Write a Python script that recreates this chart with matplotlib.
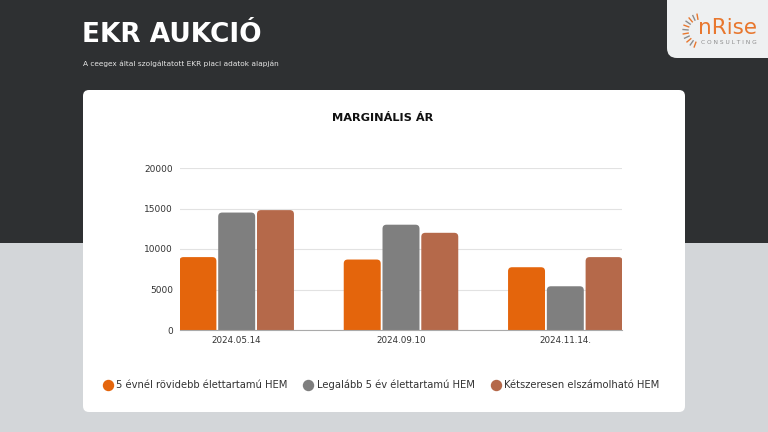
import matplotlib
matplotlib.use('Agg')
import matplotlib.pyplot as plt
from matplotlib.patches import FancyBboxPatch, Rectangle
from matplotlib.lines import Line2D
import numpy as np

categories = ['2024.05.14', '2024.09.10', '2024.11.14.']
series_names = ['5 évnél rövidebb élettartamú HEM',
                'Legalább 5 év élettartamú HEM',
                'Kétszeresen elszámolható HEM']
short_hem = [9000, 8700, 7750]
long_hem = [14500, 13000, 5400]
double_hem = [14800, 12000, 9000]
yticks = [0, 5000, 10000, 15000, 20000]
colors = ['#E4650C', '#7F7F7F', '#B5694A']

W, H = 768, 432
fig = plt.figure(figsize=(7.68, 4.32), dpi=100)

# background in pixel coordinates
bg = fig.add_axes([0, 0, 1, 1])
bg.set_xlim(0, W)
bg.set_ylim(H, 0)
bg.axis('off')
bg.add_patch(Rectangle((0, 0), W, 243, color='#2E3032', lw=0))
bg.add_patch(Rectangle((0, 243), W, H - 243, color='#D3D6D9', lw=0))
bg.add_patch(FancyBboxPatch((83, 90), 602, 322, boxstyle='round,pad=0,rounding_size=6',
                            fc='white', ec='none'))
bg.add_patch(FancyBboxPatch((667, -20), 130, 78, boxstyle='round,pad=0,rounding_size=10',
                            fc='#EEF0F1', ec='none'))

bg.text(82, 35, 'EKR AUKCIÓ', color='white', fontsize=19, fontweight='bold',
        va='center', ha='left', family='DejaVu Sans')
bg.text(83, 64, 'A ceegex által szolgáltatott EKR piaci adatok alapján', color='#E6E6E6',
        fontsize=5.3, va='center', ha='left')

# logo
bg.text(728, 28, 'nRise', color='#E8772E', fontsize=15.5, ha='center', va='center')
bg.text(729, 42, 'C O N S U L T I N G', color='#8C8C8C', fontsize=4.2, ha='center', va='center')
cx, cy = 700, 31
for i, ang in enumerate(np.linspace(100, 250, 11)):
    a = np.deg2rad(ang)
    r1, r2 = 12, 17
    c = '#E8772E' if i % 2 == 0 else '#8C8C8C'
    bg.plot([cx + r1 * np.cos(a), cx + r2 * np.cos(a)],
            [cy - r1 * np.sin(a), cy - r2 * np.sin(a)], color=c, lw=1.0)

bg.text(383, 118, 'MARGINÁLIS ÁR', color='#111111', fontsize=8.2, fontweight='bold',
        ha='center', va='center')

# chart
ax = fig.add_axes([180 / W, (H - 330) / H, 442 / W, 162 / H])
x = np.arange(len(categories))
width = 0.225
offs = [-0.236, 0, 0.236]
ax.set_xlim(-0.345, 2.345)
ax.set_ylim(0, 20000)

xpp = (2.345 + 0.345) / 442
ypp = 20000 / 162
rpx = 4
handles = []
for vals, off, col, name in zip([short_hem, long_hem, double_hem], offs, colors, series_names):
    bars = ax.bar(x + off, vals, width, color=col, zorder=2)
    for b in bars:
        bx, bw, bh = b.get_x(), b.get_width(), b.get_height()
        b.set_visible(False)
        ax.add_patch(FancyBboxPatch((bx, -rpx * ypp), bw, bh + rpx * ypp,
                                    boxstyle=f'round,pad=0,rounding_size={rpx * xpp}',
                                    mutation_aspect=ypp / xpp, fc=col, ec='none', zorder=2))
    handles.append(Line2D([], [], marker='o', ls='none', color=col, markersize=7.2, label=name))

ax.set_yticks(yticks)
ax.set_yticklabels([str(v) for v in yticks])
ax.set_xticks(x)
ax.set_xticklabels(categories)
ax.grid(axis='y', color='#E2E2E2', lw=0.8, zorder=0)
ax.set_axisbelow(True)
for s in ['top', 'right', 'left']:
    ax.spines[s].set_visible(False)
ax.spines['bottom'].set_color('#AAAAAA')
ax.spines['bottom'].set_linewidth(0.8)
ax.spines['bottom'].set_zorder(3)
ax.tick_params(axis='both', length=0, labelcolor='#333333')
ax.tick_params(axis='y', pad=5, labelsize=6.5)
ax.tick_params(axis='x', pad=4, labelsize=6.3)
ax.patch.set_alpha(0)

fig.legend(handles=handles, loc='center', bbox_to_anchor=(381 / W, (H - 385) / H), ncol=3,
           frameon=False, fontsize=7.2, handletextpad=0.35, handlelength=1.0,
           columnspacing=1.6, labelcolor='#333333')

fig.savefig('out.png', dpi=100)
